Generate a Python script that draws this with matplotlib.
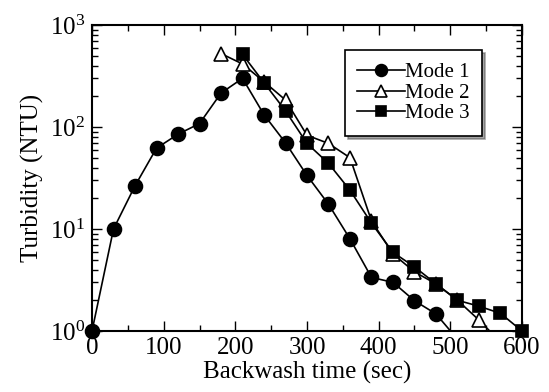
import matplotlib
matplotlib.use("Agg")
import matplotlib.pyplot as plt
from matplotlib.lines import Line2D
from matplotlib.ticker import MultipleLocator, LogLocator
import numpy as np

plt.rcParams["font.family"] = ["Liberation Serif", "DejaVu Serif"]
plt.rcParams["mathtext.fontset"] = "stix"

# Backwash time (sec) and turbidity (NTU) per mode
mode1_time = [0, 30, 60, 90, 120, 150, 180, 210, 240, 270, 300, 330, 360, 390, 420, 450, 480, 510]
mode1_ntu = [1.0, 10.0, 26.5, 62, 85, 108, 215, 300, 132, 70, 33.5, 17.5, 8.0, 3.35, 3.0, 1.98, 1.47, 0.83]

mode2_time = [180, 210, 240, 270, 300, 330, 360, 390, 420, 450, 480, 510, 540, 570]
mode2_ntu = [525, 415, 278, 184, 83, 69, 50, 12.0, 5.7, 3.8, 2.9, 2.0, 1.28, 0.78]

mode3_time = [210, 240, 270, 300, 330, 360, 390, 420, 450, 480, 510, 540, 570, 600]
mode3_ntu = [515, 272, 144, 69, 44, 24, 11.4, 5.9, 4.25, 2.9, 2.0, 1.75, 1.49, 1.0]

series = [
    ("Mode 1", mode1_time, mode1_ntu, dict(marker="o", markersize=10, markerfacecolor="black")),
    ("Mode 2", mode2_time, mode2_ntu, dict(marker="^", markersize=10, markerfacecolor="white")),
    ("Mode 3", mode3_time, mode3_ntu, dict(marker="s", markersize=9, markerfacecolor="black")),
]

fig = plt.figure(figsize=(5.49, 3.92), dpi=100)
ax = fig.add_axes([0.1676, 0.1556, 0.7832, 0.7806])

handles = []
for label, t, v, style in series:
    t = np.asarray(t, dtype=float)
    v = np.asarray(v, dtype=float)
    # connecting line is clipped at the axes; markers only for in-range points
    ax.plot(t, v, color="black", lw=1.2, zorder=2)
    keep = v >= 1.0
    ax.plot(t[keep], v[keep], ls="none", color="black", markeredgecolor="black",
            markeredgewidth=1.2, clip_on=False, zorder=3, **style)
    handles.append(Line2D([], [], color="black", lw=1.2, markeredgecolor="black",
                          markeredgewidth=1.2, label=label, **style))

ax.set_yscale("log")
ax.set_xlim(0, 600)
ax.set_ylim(1, 1000)
ax.xaxis.set_major_locator(MultipleLocator(100))
ax.xaxis.set_minor_locator(MultipleLocator(50))
ax.yaxis.set_major_locator(LogLocator(base=10))
ax.yaxis.set_minor_locator(LogLocator(base=10, subs=np.arange(2, 10)))

ax.tick_params(which="both", direction="in", top=True, right=True, labelsize=18, width=1.0)
ax.tick_params(which="major", length=7)
ax.tick_params(which="minor", length=4)
ax.tick_params(axis="x", which="major", pad=4.5)
ax.tick_params(axis="y", which="major", pad=5)
for sp in ax.spines.values():
    sp.set_linewidth(1.5)

ax.set_xlabel("Backwash time (sec)", fontsize=18, labelpad=1)
ax.set_ylabel("Turbidity (NTU)", fontsize=18, labelpad=4)

leg = ax.legend(handles=handles, loc="upper left", bbox_to_anchor=(0.588, 0.918),
                borderaxespad=0, fontsize=15, frameon=True, fancybox=False, shadow=True,
                edgecolor="black", framealpha=1, handlelength=2.3, handletextpad=0.0,
                labelspacing=0.05, borderpad=0.6, markerscale=0.85)
leg.get_frame().set_linewidth(1.2)

fig.savefig("out.png", dpi=100)
